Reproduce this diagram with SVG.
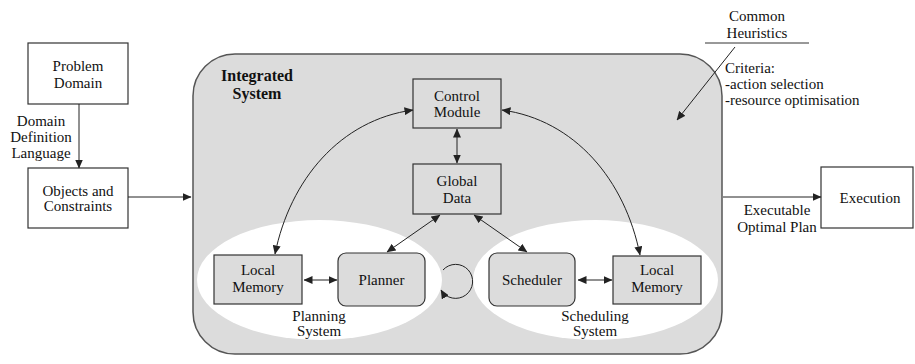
<svg xmlns="http://www.w3.org/2000/svg" width="915" height="364" viewBox="0 0 915 364" font-family="'Liberation Serif', 'DejaVu Serif', serif">
<style>
text{font-family:'Liberation Serif','DejaVu Serif',serif;font-size:15px;fill:#111;text-anchor:middle}
.l{text-anchor:start}
.b{font-weight:bold;font-size:16px}
.box{fill:#fff;stroke:#333;stroke-width:1.2}
.ibox{fill:#dcdcdc;stroke:#333;stroke-width:1.2}
.c{fill:none;stroke:#222;stroke-width:1}
</style>
<defs>
<marker id="ah" markerWidth="9" markerHeight="8" refX="8.5" refY="4" orient="auto-start-reverse" markerUnits="userSpaceOnUse">
<path d="M0,0 L9,4 L0,8 z" fill="#222"/>
</marker>
</defs>
<rect width="915" height="364" fill="#fff"/>

<g id="integrated-system">
<rect x="193" y="54" width="529" height="300" rx="42" ry="42" fill="#dcdcdc" stroke="#555" stroke-width="1.5"/>
<text class="b" x="257" y="80.5">Integrated</text>
<text class="b" x="257" y="99">System</text>
</g>

<g id="planning-system">
<ellipse cx="319.5" cy="280" rx="122.5" ry="60" fill="#fff"/>
<text x="319" y="321">Planning</text>
<text x="319" y="336">System</text>
</g>

<g id="scheduling-system">
<ellipse cx="595.5" cy="280" rx="122.5" ry="60" fill="#fff"/>
<text x="595" y="321">Scheduling</text>
<text x="595" y="336">System</text>
</g>

<g id="problem-domain">
<rect class="box" x="28" y="43" width="100" height="61"/>
<text x="78" y="70.5">Problem</text>
<text x="78" y="87.5">Domain</text>
</g>

<g id="objects-constraints">
<rect class="box" x="28" y="168" width="100" height="60"/>
<text x="78" y="196">Objects and</text>
<text x="78" y="211">Constraints</text>
</g>

<g id="execution">
<rect class="box" x="821" y="167" width="92" height="61"/>
<text x="870" y="203">Execution</text>
</g>

<g id="control-module">
<rect class="ibox" x="413" y="79" width="88" height="49"/>
<text x="457" y="101">Control</text>
<text x="457" y="117">Module</text>
</g>

<g id="global-data">
<rect class="ibox" x="413" y="164" width="88" height="50"/>
<text x="457" y="186">Global</text>
<text x="457" y="203">Data</text>
</g>

<g id="local-memory-left">
<rect class="ibox" x="214" y="255" width="88" height="49"/>
<text x="258" y="275">Local</text>
<text x="258" y="292">Memory</text>
</g>

<g id="planner">
<rect class="ibox" x="338" y="253" width="87" height="53" rx="8" ry="8"/>
<text x="381.5" y="285">Planner</text>
</g>

<g id="scheduler">
<rect class="ibox" x="489" y="253" width="86" height="53" rx="8" ry="8"/>
<text x="532" y="285">Scheduler</text>
</g>

<g id="local-memory-right">
<rect class="ibox" x="613" y="256" width="88" height="48"/>
<text x="657" y="275">Local</text>
<text x="657" y="292">Memory</text>
</g>

<g id="common-heuristics">
<text x="757" y="21">Common</text>
<text x="757" y="38">Heuristics</text>
<line x1="705" y1="43" x2="809" y2="43" stroke="#333" stroke-width="1"/>
<text class="l" x="725" y="73">Criteria:</text>
<text class="l" x="725" y="89">-action selection</text>
<text class="l" x="725" y="105">-resource optimisation</text>
</g>

<g id="connectors">
<line class="c" x1="79" y1="104" x2="79" y2="168" marker-end="url(#ah)"/>
<text x="41" y="126">Domain</text>
<text x="41" y="142">Definition</text>
<text x="41" y="158">Language</text>
<line class="c" x1="128" y1="197" x2="191" y2="197" marker-end="url(#ah)"/>
<line class="c" x1="723" y1="197" x2="821" y2="197" marker-end="url(#ah)"/>
<text x="777" y="215">Executable</text>
<text x="777" y="232">Optimal Plan</text>
<line class="c" x1="735" y1="47" x2="677" y2="120" marker-end="url(#ah)"/>
<line class="c" x1="457" y1="129" x2="457" y2="163" marker-start="url(#ah)" marker-end="url(#ah)"/>
<line class="c" x1="440" y1="215" x2="387" y2="252" marker-start="url(#ah)" marker-end="url(#ah)"/>
<line class="c" x1="474" y1="215" x2="527" y2="252" marker-start="url(#ah)" marker-end="url(#ah)"/>
<path class="c" d="M413,110 C340,120 290,180 275,254" marker-start="url(#ah)" marker-end="url(#ah)"/>
<path class="c" d="M502,110 C575,120 625,180 640,255" marker-start="url(#ah)" marker-end="url(#ah)"/>
<line class="c" x1="304" y1="280" x2="337" y2="280" marker-start="url(#ah)" marker-end="url(#ah)"/>
<line class="c" x1="578" y1="280" x2="612" y2="280" marker-start="url(#ah)" marker-end="url(#ah)"/>
<path class="c" stroke-width="1.3" d="M443,270 A17,17 0 1 1 441,290" marker-end="url(#ah)"/>
</g>
</svg>
